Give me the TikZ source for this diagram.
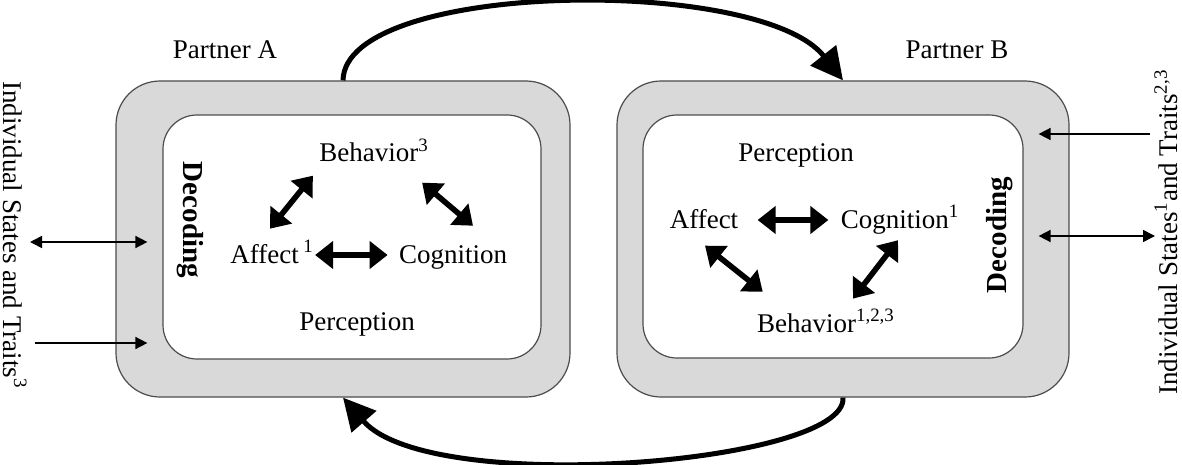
\documentclass[tikz,border=0pt]{standalone}
\usepackage{fontspec}
\setmainfont{Liberation Serif}
\usetikzlibrary{arrows.meta,calc}
\definecolor{boxgray}{gray}{0.85}
\definecolor{edgegray}{gray}{0.3}

\begin{document}
\begin{tikzpicture}[x=0.5pt, y=-0.5pt, font=\fontsize{13.5}{16}\selectfont,
    outbox/.style={draw=edgegray, fill=boxgray, line width=0.6pt, rounded corners=22pt, inner sep=0pt},
    inbox/.style={draw=edgegray, fill=white, line width=0.6pt, rounded corners=17pt, inner sep=0pt},
    lbl/.style={inner sep=0pt, anchor=base},
    thk/.style={line width=2.8pt, {Triangle[length=9pt,width=13.5pt]}-{Triangle[length=9pt,width=13.5pt]}},
    bigarr/.style={line width=2.5pt, -{Triangle[length=16pt,width=16pt]}},
    sidearr/.style={line width=0.8pt, shorten >=7.5pt, -{Triangle[length=6pt,width=6pt]}},
    sidedbl/.style={line width=0.8pt, shorten >=7.5pt, {Triangle[length=6pt,width=6pt]}-{Triangle[length=6pt,width=6pt]}}]
    \useasboundingbox (0,0) rectangle (1182,465);
    \node[outbox, minimum width=227pt, minimum height=158pt] (outA) at (343,239) {};
    \node[inbox, minimum width=189pt, minimum height=122pt] (inA) at (352,237) {};
    \node[outbox, minimum width=226pt, minimum height=158pt] (outB) at (843,239) {};
    \node[inbox, minimum width=190pt, minimum height=121.5pt] (inB) at (833,236.5) {};
    \node (ptA) at (225,50) {Partner A};
    \node (ptB) at (957,50) {Partner B};
    \node[rotate=-90] (stA) at (15,235) {Individual States and Traits\textsuperscript{3}};
    \node[rotate=90] (stB) at (1166,232) {Individual States\textsuperscript{1}and Traits\textsuperscript{2,3}};
    \node[rotate=-90, font=\fontsize{14.5}{16}\selectfont\bfseries] (decA) at (190,220) {Decoding};
    \node[rotate=90, font=\fontsize{14.5}{16}\selectfont\bfseries] (decB) at (1000,235) {Decoding};
    \node[lbl] (behA) at (374,162) {Behavior\textsuperscript{3}};
    \node[lbl] (affA) at (272,263) {Affect\,\textsuperscript{1}};
    \node[lbl] (cogA) at (453,263) {Cognition};
    \node[lbl] (perA) at (357,330) {Perception};
    \node[lbl] (perB) at (796,162) {Perception};
    \node[lbl] (affB) at (704,228) {Affect};
    \node[lbl] (cogB) at (900,228) {Cognition\textsuperscript{1}};
    \node[lbl] (behB) at (826,332) {Behavior\textsuperscript{1,2,3}};
    \draw[thk] ([shift={(-2,-11)}]affA.north) -- ([shift={(-6,13)}]behA.south west);
    \draw[thk] ([shift={(-7,20)}]behA.south east) -- ([shift={(20,-19)}]cogA.north);
    \draw[thk] ([shift={(1,-8)}]affA.base east) -- ([shift={(-11,-8)}]cogA.base west);
    \draw[thk] ([shift={(19,-8)}]affB.base east) -- ([shift={(-12,-8)}]cogB.base west);
    \draw[thk] ([shift={(1,17)}]affB.south) -- ([shift={(6,-17)}]behB.north west);
    \draw[thk] ([shift={(-2,6)}]cogB.south) -- ([shift={(27,-10)}]behB.north);
    \coordinate (a1) at (30,242);
    \coordinate (a2) at (35,343);
    \coordinate (b1) at (1150,134);
    \coordinate (b2) at (1155,236);
    \draw[sidedbl] (a1) -- (a1 -| inA.west);
    \draw[sidearr] (a2) -- (a2 -| inA.west);
    \draw[sidearr] (b1) -- (b1 -| inB.east);
    \draw[sidedbl] (b2) -- (b2 -| inB.east);
    \draw[bigarr] (outA.north) .. controls +(2,-100) and +(-83,-105) .. (outB.north);
    \draw[bigarr] (outB.south) .. controls +(5,66) and +(87,100) .. (outA.south);
\end{tikzpicture}
\end{document}
